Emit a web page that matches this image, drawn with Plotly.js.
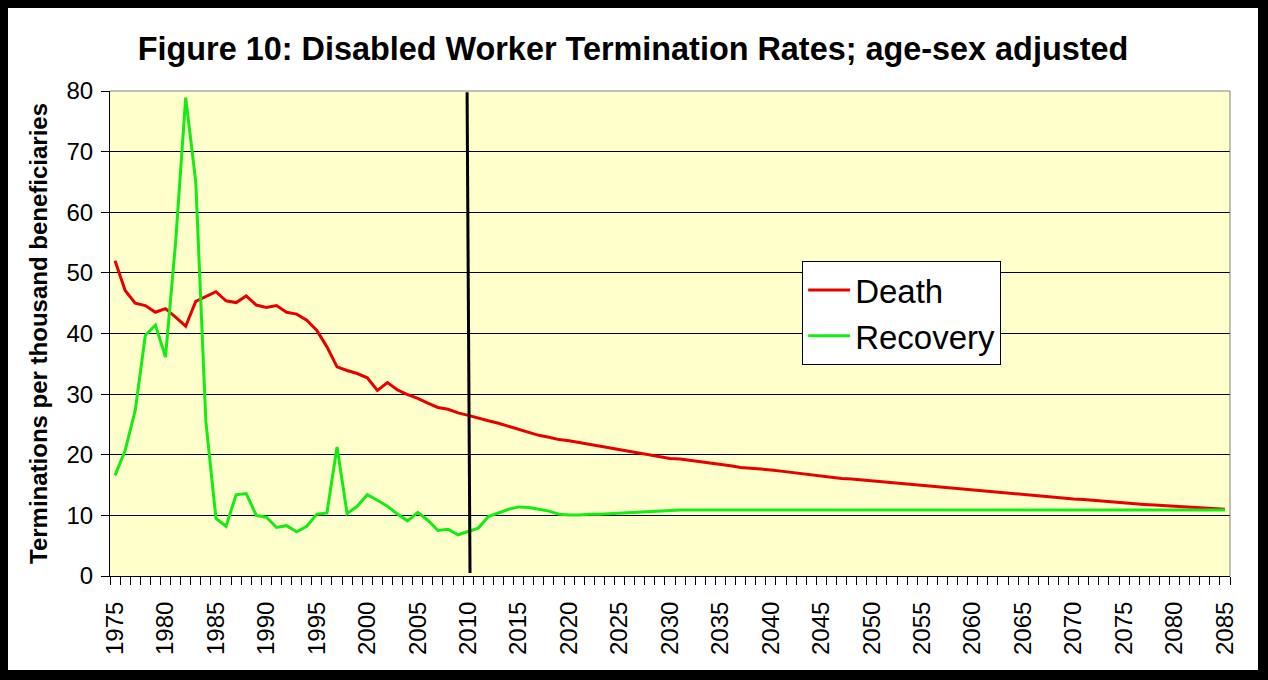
<!DOCTYPE html>
<html><head><meta charset="utf-8">
<script src="https://cdn.plot.ly/plotly-3.0.1.min.js"></script>
<style>
html,body{margin:0;padding:0;background:#000;width:1268px;height:680px;overflow:hidden}
#chart{position:absolute;left:8px;top:8px;width:1250px;height:662px;background:#fff}
</style></head><body><div id="chart"></div>
<script>
const TITLE = 'Figure 10: Disabled Worker Termination Rates; age-sex adjusted';
const Y_TITLE = 'Terminations per thousand beneficiaries';
const FIRST_YEAR = 1975, LAST_YEAR = 2085;
const years = [];
for (let y = FIRST_YEAR; y <= LAST_YEAR; y++) years.push(y);

// Death terminations per thousand, 1975-2085
const death = [
  52.0, 47.1, 45.0, 44.6, 43.5, 44.1, 42.7, 41.2, 45.3, 46.1,
  46.9, 45.4, 45.1, 46.2, 44.7, 44.3, 44.6, 43.5, 43.2, 42.2,
  40.5, 37.8, 34.5, 33.9, 33.4, 32.7, 30.6, 31.9, 30.7, 29.9,
  29.3, 28.5, 27.8, 27.5, 26.9, 26.5, 26.0,
  25.6, 25.2, 24.7, 24.1, 23.7, 23.2, 22.9, 22.5, 22.3, 22.0,
  21.7, 21.5, 21.1, 20.8, 20.5, 20.2, 20.0, 19.7, 19.4, 19.3,
  19.1, 18.9, 18.6, 18.4, 18.2, 17.9, 17.8, 17.6, 17.5, 17.3,
  17.1, 16.8, 16.6, 16.4, 16.2, 16.1, 16.0,
  15.85, 15.7, 15.55, 15.35, 15.2, 15.05, 14.9, 14.7, 14.55, 14.4,
  14.25, 14.1, 13.95, 13.8, 13.65, 13.5, 13.4, 13.25, 13.1, 12.95,
  12.85, 12.7, 12.6, 12.45, 12.35, 12.2, 12.1, 11.95, 11.8, 11.7,
  11.6, 11.5, 11.4, 11.3, 11.2, 11.1, 11.0
];
// Recovery terminations per thousand, 1975-2085
const recovery = [
  16.6, 20.7, 27.3, 39.7, 41.4, 36.1, 55.0, 78.9, 65.0, 25.5,
  9.5, 8.2, 13.4, 13.6, 10.0, 9.7, 8.0, 8.3, 7.3, 8.2,
  10.2, 10.4, 21.3, 10.3, 11.5, 13.4, 12.5, 11.5, 10.2, 9.1,
  10.5, 9.2, 7.5, 7.7, 6.8, 7.4, 7.9,
  9.8, 10.4, 11.0, 11.4, 11.3, 11.0, 10.7, 10.2, 10.05, 10.05,
  10.2, 10.2, 10.3, 10.4, 10.5, 10.6, 10.7, 10.8,
  10.85, 10.9, 10.9, 10.9, 10.9, 10.9, 10.9, 10.9, 10.9, 10.9,
  10.9, 10.9, 10.9, 10.9, 10.9, 10.9, 10.9, 10.9, 10.9, 10.9,
  10.9, 10.9, 10.9, 10.9, 10.9, 10.9, 10.9, 10.9, 10.9, 10.9,
  10.9, 10.9, 10.9, 10.9, 10.9, 10.9, 10.9, 10.9, 10.9, 10.9,
  10.9, 10.9, 10.9, 10.9, 10.9, 10.9, 10.9, 10.9, 10.9, 10.9,
  10.9, 10.9, 10.9, 10.9, 10.9, 10.9
];
const seriesNames = ['Death', 'Recovery'];
const MARKER_YEAR = 2010;

const FONT = 'Arial, "Liberation Sans", sans-serif';
const traces = [
  {x: years, y: death, name: seriesNames[0], type: 'scatter', mode: 'lines',
   line: {color: '#e80000', width: 3}},
  {x: years, y: recovery, name: seriesNames[1], type: 'scatter', mode: 'lines',
   line: {color: '#14ec14', width: 3}}
];

const layout = {
  width: 1250, height: 662,
  margin: {l: 102, r: 28, t: 83, b: 94},
  paper_bgcolor: '#ffffff', plot_bgcolor: '#ffffcc',
  font: {family: FONT, color: '#000'},
  showlegend: true,
  title: {text: TITLE, font: {size: 32.4, weight: 700, family: FONT, color: '#000'},
          x: 0.5, xref: 'container', xanchor: 'center',
          y: 0.938, yref: 'container', yanchor: 'middle'},
  xaxis: {
    range: [FIRST_YEAR - 0.5, LAST_YEAR + 0.5],
    tickmode: 'linear', tick0: 1975, dtick: 5, ticks: '',
    tickangle: -90, tickfont: {size: 24, family: FONT},
    ticklabelstandoff: 15,
    showline: true, linecolor: '#000', linewidth: 1,
    showgrid: false, zeroline: false, fixedrange: true,
    minor: {tick0: FIRST_YEAR - 0.5, dtick: 1, ticks: 'outside', ticklen: 8,
            tickcolor: '#000', tickwidth: 1, showgrid: false}
  },
  yaxis: {
    range: [0, 80], tickmode: 'linear', tick0: 0, dtick: 10,
    ticks: 'outside', ticklen: 8, tickcolor: '#000', tickwidth: 1,
    tickfont: {size: 24, family: FONT}, ticklabelstandoff: 3,
    showline: true, linecolor: '#000', linewidth: 1,
    showgrid: true, gridcolor: '#000', gridwidth: 1, zeroline: false, fixedrange: true,
    title: {text: Y_TITLE, font: {size: 24, weight: 700, family: FONT}, standoff: 12}
  },
  legend: {x: 0.618, y: 0.6495, xanchor: 'left', yanchor: 'top',
           bgcolor: '#ffffff', bordercolor: '#000', borderwidth: 1,
           itemwidth: 42,
           font: {size: 33, family: FONT}},
  shapes: [
    {type: 'line', xref: 'x', yref: 'y', x0: MARKER_YEAR - 0.11, x1: MARKER_YEAR + 0.18,
     y0: 79.8, y1: 0.5, line: {color: '#000', width: 3}, layer: 'above'},
    {type: 'line', xref: 'paper', yref: 'paper', x0: 0, x1: 1, y0: 1, y1: 1,
     line: {color: '#808080', width: 1}, layer: 'above'},
    {type: 'line', xref: 'paper', yref: 'paper', x0: 1, x1: 1, y0: 0, y1: 1,
     line: {color: '#808080', width: 1}, layer: 'above'}
  ]
};

Plotly.newPlot('chart', traces, layout, {displayModeBar: false, staticPlot: true});
</script></body></html>
